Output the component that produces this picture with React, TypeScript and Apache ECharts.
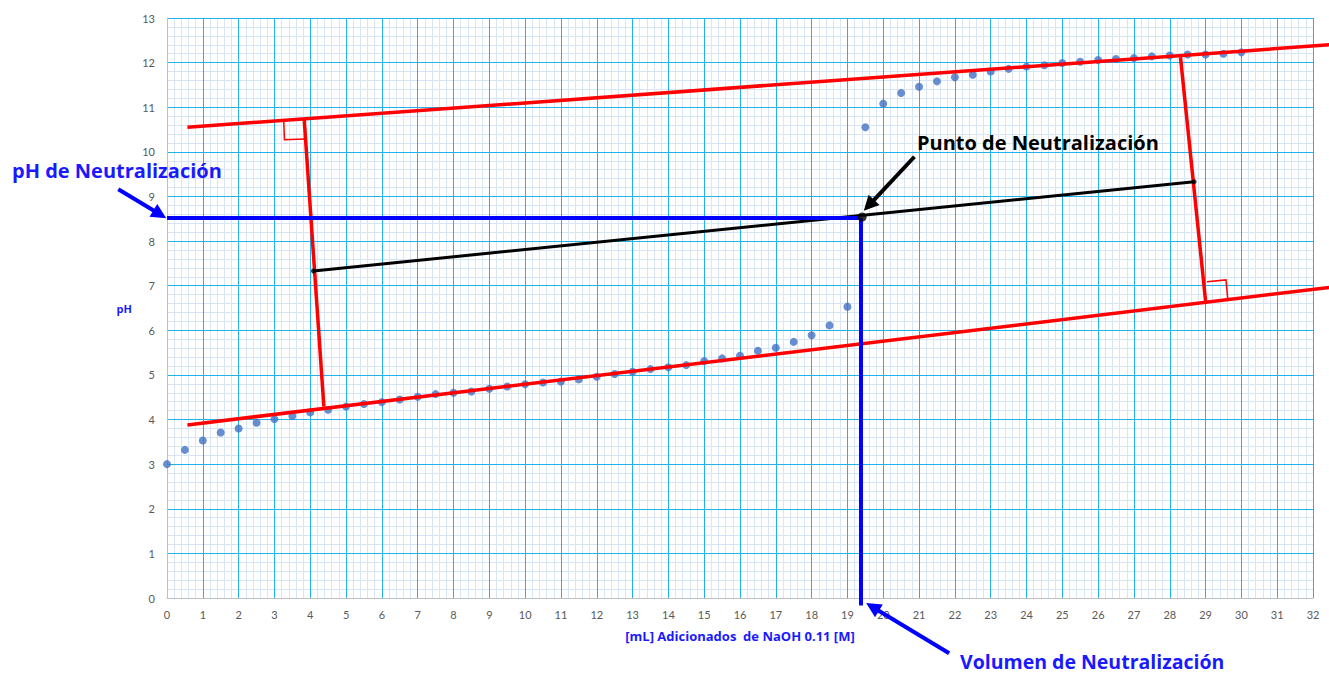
import React, { useEffect, useRef } from "react";
import * as echarts from "echarts";

// Titration data: mL of NaOH 0.11 M added vs measured pH
const volumeML = [
  0, 0.5, 1, 1.5, 2, 2.5, 3, 3.5, 4, 4.5, 5, 5.5, 6, 6.5, 7, 7.5, 8, 8.5, 9, 9.5,
  10, 10.5, 11, 11.5, 12, 12.5, 13, 13.5, 14, 14.5, 15, 15.5, 16, 16.5, 17, 17.5,
  18, 18.5, 19, 19.5, 20, 20.5, 21, 21.5, 22, 22.5, 23, 23.5, 24, 24.5, 25, 25.5,
  26, 26.5, 27, 27.5, 28, 28.5, 29, 29.5, 30,
];
const phValues = [
  3.0, 3.32, 3.53, 3.71, 3.8, 3.93, 4.01, 4.08, 4.16, 4.22, 4.29, 4.35, 4.39, 4.45,
  4.51, 4.57, 4.6, 4.63, 4.69, 4.74, 4.79, 4.83, 4.85, 4.9, 4.96, 5.02, 5.07, 5.13,
  5.17, 5.22, 5.31, 5.37, 5.43, 5.54, 5.61, 5.74, 5.89, 6.11, 6.53, 10.55, 11.08,
  11.32, 11.46, 11.58, 11.67, 11.73, 11.8, 11.86, 11.91, 11.94, 11.99, 12.02, 12.06,
  12.08, 12.1, 12.14, 12.16, 12.18, 12.18, 12.2, 12.23,
];

// Construction lines (data coordinates: [mL, pH])
const upperTangent = [[0.57, 10.55], [32.45, 12.4]];
const lowerTangent = [[0.57, 3.88], [32.45, 6.96]];
const leftPerpendicular = [[3.83, 10.74], [4.38, 4.29]];
const rightPerpendicular = [[28.3, 12.12], [29.0, 6.66]];
const leftRightAngle = [[3.26, 10.7], [3.28, 10.27], [3.83, 10.29]];
const rightRightAngle = [[29.04, 7.09], [29.57, 7.13], [29.62, 6.7]];
const midLine = [[4.09, 7.33], [28.68, 9.33]];
const neutralVolume = 19.36;
const neutralPH = 8.52;
const phLineStart = 0;
const volumeLineEnd = -0.17;

// Annotation arrows: [tail, tip]
const phArrow = [[-1.36, 9.16], [-0.2, 8.6]];
const pointArrow = [[20.87, 9.89], [19.6, 8.8]];
const volumeArrow = [[21.84, -1.24], [19.7, -0.2]];

const xTicks = { min: 0, max: 32, interval: 1, minorInterval: 0.2 };
const yTicks = { min: 0, max: 13, interval: 1, minorInterval: 0.2 };

const FONT = "Lato, 'Open Sans', sans-serif";
const NOTE_FONT = "'Open Sans', Lato, sans-serif";
const MAJOR = "#21b2ea";
const MINOR = "#d8e5f5";

export default function App() {
  const ref = useRef<HTMLDivElement>(null);

  useEffect(() => {
    if (!ref.current) return;
    const chart = echarts.init(ref.current, undefined, { renderer: "svg" });

    const seg = (coords: number[][], color: string, width: number, polyline = false) => ({
      type: "lines",
      coordinateSystem: "cartesian2d",
      polyline,
      clip: false,
      silent: true,
      z: 4,
      lineStyle: { color, width, opacity: 1 },
      data: [{ coords }],
    });

    const arrow = (coords: number[][], color: string) => ({
      type: "lines",
      coordinateSystem: "cartesian2d",
      clip: false,
      silent: true,
      z: 6,
      symbol: ["none", "triangle"],
      symbolSize: 15,
      lineStyle: { color, width: 4, opacity: 1 },
      itemStyle: { color },
      data: [{ coords }],
    });

    // grid-only axes (no labels): minor 0.2 grid underneath, major 1.0 grid on top
    const gridAxis = (
      t: { min: number; max: number },
      interval: number,
      color: string,
      z: number
    ) => ({
      type: "value",
      gridIndex: 0,
      min: t.min,
      max: t.max,
      interval,
      z,
      axisLine: { show: false },
      axisTick: { show: false },
      axisLabel: { show: false },
      splitLine: { show: true, showMinLine: false, lineStyle: { color, width: 1 } },
    });

    const option: any = {
      animation: false,
      textStyle: { fontFamily: FONT },
      grid: { left: 167, right: 16, top: 18, bottom: 75, containLabel: false },
      xAxis: [
        {
          type: "value",
          min: xTicks.min,
          max: xTicks.max,
          interval: xTicks.interval,
          z: 2,
          name: "[mL] Adicionados  de NaOH 0.11 [M]",
          nameLocation: "middle",
          nameGap: 31,
          nameTextStyle: { color: "#1a1aff", fontWeight: "bold", fontSize: 13, fontFamily: NOTE_FONT },
          axisLine: { show: true, lineStyle: { color: "#bfbfbf", width: 1 } },
          axisTick: { show: false },
          axisLabel: { color: "#595959", fontSize: 11, margin: 11, fontFamily: FONT },
          splitLine: { show: false },
        },
        gridAxis(xTicks, xTicks.minorInterval, MINOR, 0),
        gridAxis(xTicks, xTicks.interval, MAJOR, 1),
      ],
      yAxis: [
        {
          type: "value",
          min: yTicks.min,
          max: yTicks.max,
          interval: yTicks.interval,
          z: 2,
          name: "pH",
          nameLocation: "middle",
          nameRotate: 0,
          nameGap: 35,
          nameTextStyle: { color: "#1a1aff", fontWeight: "bold", fontSize: 11, fontFamily: NOTE_FONT },
          axisLine: { show: true, lineStyle: { color: "#bfbfbf", width: 1 } },
          axisTick: { show: false },
          axisLabel: { color: "#595959", fontSize: 11, margin: 12, fontFamily: FONT },
          splitLine: { show: false },
        },
        gridAxis(yTicks, yTicks.minorInterval, MINOR, 0),
        gridAxis(yTicks, yTicks.interval, MAJOR, 1),
      ],
      series: [
        {
          type: "scatter",
          name: "pH",
          data: volumeML.map((v, i) => [v, phValues[i]]),
          symbolSize: 8,
          itemStyle: { color: "#4472c4" },
          z: 3,
        },
        seg(upperTangent, "#ff0000", 3.5),
        seg(lowerTangent, "#ff0000", 3.5),
        seg(leftPerpendicular, "#ff0000", 3.5),
        seg(rightPerpendicular, "#ff0000", 3.5),
        seg(leftRightAngle, "#ff0000", 1.5, true),
        seg(rightRightAngle, "#ff0000", 1.5, true),
        seg(midLine, "#000000", 3),
        {
          type: "scatter",
          data: midLine,
          symbolSize: 5,
          itemStyle: { color: "#000000" },
          z: 5,
          silent: true,
        },
        seg([[phLineStart, neutralPH], [neutralVolume, neutralPH]], "#0000ff", 4),
        seg([[neutralVolume, neutralPH], [neutralVolume, volumeLineEnd]], "#0000ff", 4),
        {
          type: "scatter",
          data: [[neutralVolume + 0.05, neutralPH + 0.02]],
          symbolSize: 9,
          itemStyle: { color: "#000000" },
          z: 7,
          silent: true,
        },
        arrow(phArrow, "#0000ff"),
        arrow(pointArrow, "#000000"),
        arrow(volumeArrow, "#0000ff"),
      ],
      graphic: [
        {
          type: "text",
          x: 12,
          y: 170,
          z: 10,
          style: {
            text: "pH de Neutralización",
            font: `bold 20px ${NOTE_FONT}`,
            fill: "#1a1aff",
            verticalAlign: "middle",
          },
        },
        {
          type: "text",
          x: 917,
          y: 142,
          z: 10,
          style: {
            text: "Punto de Neutralización",
            font: `bold 20px ${NOTE_FONT}`,
            fill: "#000000",
            verticalAlign: "middle",
          },
        },
        {
          type: "text",
          x: 960,
          y: 661,
          z: 10,
          style: {
            text: "Volumen de Neutralización",
            font: `bold 19.5px ${NOTE_FONT}`,
            fill: "#1a1aff",
            verticalAlign: "middle",
          },
        },
      ],
    };

    chart.setOption(option);
    return () => chart.dispose();
  }, []);

  return (
    <div
      ref={ref}
      style={{ position: "absolute", left: 0, top: 0, width: 1329, height: 673, background: "#ffffff" }}
    />
  );
}
